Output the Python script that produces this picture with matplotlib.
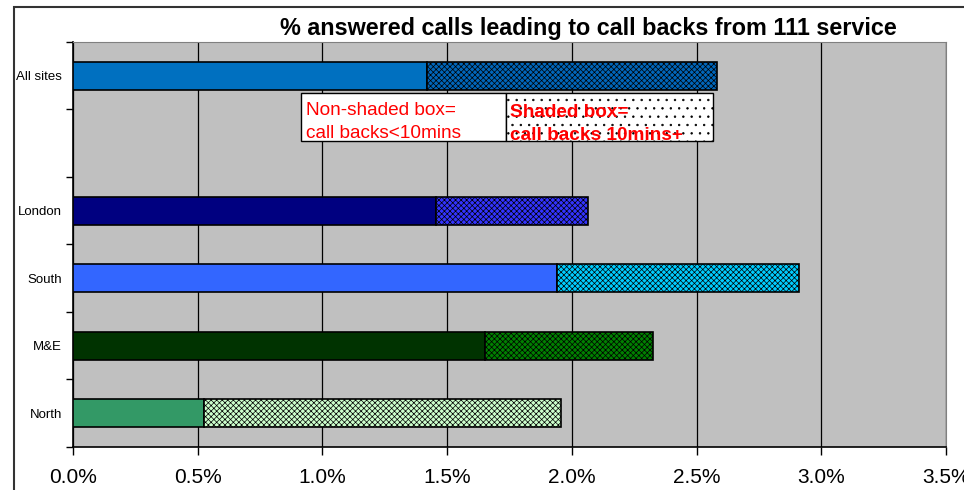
import numpy as np
import matplotlib.pyplot as plt
from matplotlib.patches import Rectangle
from matplotlib.ticker import FuncFormatter, MultipleLocator

plt.rcParams["font.family"] = ["Liberation Sans", "DejaVu Sans"]
plt.rcParams["hatch.linewidth"] = 0.5

# % of answered calls leading to call backs (in percent)
sites = ["All sites", "", "London", "South", "M&E", "North"]
under_10 = [1.42, np.nan, 1.455, 1.94, 1.65, 0.525]
over_10 = [1.16, np.nan, 0.61, 0.97, 0.675, 1.43]

solid_colors = ["#0070C0", "#ffffff", "#000080", "#3366FF", "#003300", "#339966"]
hatch_colors = ["#0066BB", "#ffffff", "#3333FF", "#00CCFF", "#008000", "#CCFFCC"]

fig = plt.figure(figsize=(9.64, 4.9), dpi=100)
ax = fig.add_axes([73 / 964, 1 - 447 / 490, 873 / 964, 405 / 490])
ax.set_facecolor("#C0C0C0")

y = np.arange(len(sites))
ax.barh(y, under_10, height=0.42, color=solid_colors, edgecolor="black",
        linewidth=1.2, zorder=3)
ax.barh(y, over_10, left=under_10, height=0.42, color=hatch_colors,
        edgecolor="black", linewidth=1.2, hatch="xxxxxx", zorder=3)

ax.set_xlim(0, 3.5)
ax.set_ylim(len(sites) - 0.5, -0.5)
ax.xaxis.set_major_locator(MultipleLocator(0.5))
ax.xaxis.set_major_formatter(FuncFormatter(lambda v, p: f"{v:.1f}%"))
ax.grid(axis="x", color="black", linewidth=0.9, zorder=1)

ax.set_yticks(y)
ax.set_yticklabels(sites, fontsize=9.5)
ax.set_yticks(np.arange(-0.5, len(sites), 1), minor=True)
ax.tick_params(axis="y", which="major", length=0, pad=8)
ax.tick_params(axis="y", which="minor", length=5, width=1)
ax.tick_params(axis="x", length=6, width=1, labelsize=15, pad=9)

for side in ["top", "right"]:
    ax.spines[side].set_color("#808080")
ax.spines["left"].set_linewidth(1.2)
ax.spines["bottom"].set_linewidth(1.2)

# explanation boxes
ax.add_patch(Rectangle((0.261, 0.756), 0.235, 0.118, transform=ax.transAxes,
                       facecolor="white", edgecolor="black", linewidth=1, zorder=4))
ax.add_patch(Rectangle((0.496, 0.756), 0.237, 0.118, transform=ax.transAxes,
                       facecolor="white", edgecolor="black", linewidth=1,
                       hatch="..", zorder=4))
ax.text(0.267, 0.803, "Non-shaded box=\ncall backs<10mins", transform=ax.transAxes,
        color="red", fontsize=13.7, va="center", ha="left", linespacing=1.45, zorder=5)
ax.text(0.500, 0.797, "Shaded box=\ncall backs 10mins+", transform=ax.transAxes,
        color="red", fontsize=13.7, fontweight="bold", va="center", ha="left",
        linespacing=1.45, zorder=5)

fig.text(588 / 964, 1 - 29 / 490, "% answered calls leading to call backs from 111 service",
         ha="center", va="center", fontsize=16.8, fontweight="bold")

# chart border
fig.patches.append(Rectangle((14 / 964, -0.1), 1.2, 1 - 7 / 490 + 0.1,
                             transform=fig.transFigure, fill=False,
                             edgecolor="#333333", linewidth=1.5))

fig.savefig("out.png", dpi=100)
